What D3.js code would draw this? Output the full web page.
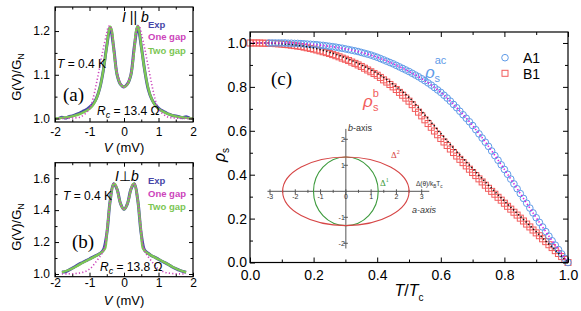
<!DOCTYPE html>
<html>
<head>
<meta charset="utf-8">
<script src="https://cdn.jsdelivr.net/npm/d3@7"></script>
<style>
body { margin: 0; background: #fff; }
svg { display: block; font-family: "Liberation Sans", Arial, sans-serif; }
</style>
</head>
<body>
<svg id="fig" width="581" height="311"></svg>
<script>
// ---- panel (a): I || b ----
const vA = [-2, -1.75, -1.5, -1.25, -1, -0.9, -0.8, -0.7, -0.6, -0.5, -0.45, -0.4, -0.35, -0.3, -0.25, -0.2, -0.1, 0,
            0.1, 0.2, 0.25, 0.3, 0.35, 0.4, 0.45, 0.5, 0.6, 0.7, 0.8, 0.9, 1, 1.25, 1.5, 1.75, 2];
const twoGapA = [1.000, 1.002, 1.005, 1.011, 1.022, 1.030, 1.045, 1.070, 1.110, 1.165, 1.195, 1.210, 1.200, 1.160, 1.125, 1.100, 1.078, 1.072,
                 1.078, 1.100, 1.125, 1.160, 1.200, 1.212, 1.197, 1.165, 1.110, 1.070, 1.045, 1.030, 1.022, 1.011, 1.005, 1.002, 1.000];
const oneGapA = [1.000, 1.000, 1.001, 1.004, 1.022, 1.045, 1.080, 1.120, 1.160, 1.195, 1.210, 1.212, 1.195, 1.165, 1.130, 1.105, 1.080, 1.072,
                 1.080, 1.105, 1.130, 1.165, 1.195, 1.212, 1.210, 1.195, 1.160, 1.120, 1.080, 1.045, 1.022, 1.004, 1.001, 1.000, 1.000];
const vExpA = [-1.9, -1.8, -1.7, -1.6, -1.5, -1.4, -1.3, -1.2, -1.1, -1.0, -0.9, -0.8, -0.7, -0.6, -0.5, -0.4, -0.3, -0.2, -0.1, 0,
               0.1, 0.2, 0.3, 0.4, 0.5, 0.6, 0.7, 0.8, 0.9, 1.0, 1.1, 1.2, 1.3, 1.4, 1.5, 1.6, 1.7, 1.8, 1.9];
const expA = [1.000, 1.003, 1.001, 1.004, 1.006, 1.009, 1.012, 1.016, 1.020, 1.026, 1.033, 1.046, 1.070, 1.110, 1.165, 1.208, 1.162, 1.100, 1.078, 1.072,
              1.079, 1.100, 1.165, 1.210, 1.165, 1.110, 1.068, 1.045, 1.032, 1.024, 1.018, 1.014, 1.010, 1.007, 1.006, 1.004, 1.002, 1.004, 1.001];

// ---- panel (b): I ⊥ b ----
const vB = [-1.8, -1.6, -1.4, -1.2, -1, -0.8, -0.65, -0.55, -0.5, -0.45, -0.4, -0.35, -0.3, -0.25, -0.2, -0.15, -0.1, -0.05, 0,
            0.05, 0.1, 0.15, 0.2, 0.25, 0.3, 0.35, 0.4, 0.45, 0.5, 0.55, 0.65, 0.8, 1, 1.2, 1.4, 1.6, 1.8];
const twoGapB = [1.010, 1.025, 1.045, 1.070, 1.092, 1.115, 1.135, 1.160, 1.250, 1.360, 1.460, 1.530, 1.565, 1.560, 1.530, 1.480, 1.440, 1.415, 1.405,
                 1.415, 1.440, 1.480, 1.530, 1.560, 1.565, 1.530, 1.460, 1.360, 1.250, 1.160, 1.135, 1.115, 1.092, 1.070, 1.045, 1.025, 1.010];
const oneGapB = [1.000, 1.001, 1.003, 1.010, 1.030, 1.080, 1.125, 1.180, 1.265, 1.365, 1.460, 1.530, 1.565, 1.560, 1.530, 1.480, 1.440, 1.415, 1.405,
                 1.415, 1.440, 1.480, 1.530, 1.560, 1.565, 1.530, 1.460, 1.365, 1.265, 1.180, 1.125, 1.080, 1.030, 1.010, 1.003, 1.001, 1.000];
const vExpB = [-1.8, -1.7, -1.6, -1.5, -1.4, -1.3, -1.2, -1.1, -1.0, -0.9, -0.8, -0.7, -0.6, -0.5, -0.4, -0.3, -0.2, -0.1, 0,
               0.1, 0.2, 0.3, 0.4, 0.5, 0.6, 0.7, 0.8, 0.9, 1.0, 1.1, 1.2, 1.3, 1.4, 1.5, 1.6, 1.7, 1.8];
const expB = [1.012, 1.014, 1.024, 1.036, 1.048, 1.062, 1.072, 1.084, 1.094, 1.106, 1.117, 1.128, 1.150, 1.250, 1.460, 1.565, 1.530, 1.440, 1.405,
              1.440, 1.530, 1.565, 1.460, 1.250, 1.148, 1.130, 1.114, 1.104, 1.092, 1.080, 1.070, 1.058, 1.044, 1.034, 1.024, 1.016, 1.011];

// ---- panel (c): superfluid density ----
const tGrid = [0.00, 0.01, 0.02, 0.03, 0.04, 0.05, 0.06, 0.07, 0.08, 0.09, 0.10, 0.11, 0.12, 0.13, 0.14, 0.15, 0.16, 0.17, 0.18, 0.19,
               0.20, 0.21, 0.22, 0.23, 0.24, 0.25, 0.26, 0.27, 0.28, 0.29, 0.30, 0.31, 0.32, 0.33, 0.34, 0.35, 0.36, 0.37, 0.38, 0.39,
               0.40, 0.41, 0.42, 0.43, 0.44, 0.45, 0.46, 0.47, 0.48, 0.49, 0.50, 0.51, 0.52, 0.53, 0.54, 0.55, 0.56, 0.57, 0.58, 0.59,
               0.60, 0.61, 0.62, 0.63, 0.64, 0.65, 0.66, 0.67, 0.68, 0.69, 0.70, 0.71, 0.72, 0.73, 0.74, 0.75, 0.76, 0.77, 0.78, 0.79,
               0.80, 0.81, 0.82, 0.83, 0.84, 0.85, 0.86, 0.87, 0.88, 0.89, 0.90, 0.91, 0.92, 0.93, 0.94, 0.95, 0.96, 0.97, 0.98, 0.99, 1.00];
// A1 starts at T/Tc = 0.06
const tA1 = tGrid.slice(6);
const rhoA1 = [1.000, 1.000, 1.000, 1.000, 1.000, 1.000, 0.999, 0.999, 0.998, 0.998, 0.997, 0.996, 0.995, 0.994,
               0.993, 0.992, 0.990, 0.989, 0.987, 0.985, 0.983, 0.981, 0.978, 0.976, 0.973, 0.970, 0.967, 0.964, 0.961, 0.957,
               0.953, 0.949, 0.945, 0.940, 0.935, 0.929, 0.923, 0.917, 0.911, 0.905, 0.898, 0.891, 0.884, 0.877, 0.870, 0.862,
               0.854, 0.846, 0.837, 0.828, 0.818, 0.808, 0.797, 0.786, 0.775, 0.762, 0.749, 0.735, 0.720, 0.705, 0.689, 0.673,
               0.657, 0.641, 0.624, 0.605, 0.586, 0.567, 0.548, 0.529, 0.508, 0.487, 0.466, 0.445, 0.424, 0.402, 0.380, 0.358,
               0.336, 0.314, 0.292, 0.270, 0.248, 0.226, 0.204, 0.183, 0.162, 0.141, 0.120, 0.099, 0.079, 0.059, 0.039, 0.019, 0.000];
const rhoB1 = [1.000, 1.000, 1.000, 1.000, 0.999, 0.999, 0.998, 0.998, 0.997, 0.996, 0.995, 0.993, 0.992, 0.990, 0.988, 0.986,
               0.984, 0.981, 0.978, 0.975, 0.972, 0.968, 0.964, 0.960, 0.956, 0.952, 0.947, 0.942, 0.937, 0.931, 0.926, 0.920,
               0.913, 0.907, 0.900, 0.893, 0.885, 0.877, 0.869, 0.861, 0.853, 0.843, 0.832, 0.822, 0.811, 0.800, 0.788, 0.775,
               0.762, 0.749, 0.735, 0.719, 0.702, 0.685, 0.668, 0.650, 0.633, 0.616, 0.599, 0.582, 0.565, 0.549, 0.533, 0.517,
               0.501, 0.485, 0.470, 0.455, 0.440, 0.425, 0.410, 0.396, 0.381, 0.367, 0.352, 0.338, 0.324, 0.311, 0.297, 0.284,
               0.270, 0.256, 0.243, 0.229, 0.216, 0.202, 0.189, 0.175, 0.162, 0.148, 0.135, 0.122, 0.108, 0.095, 0.081, 0.068,
               0.054, 0.041, 0.027, 0.014, 0.000];
const fitT = [0, 0.05, 0.1, 0.15, 0.2, 0.25, 0.3, 0.35, 0.4, 0.45, 0.5, 0.55, 0.6, 0.65, 0.7, 0.75, 0.8, 0.85, 0.9, 0.95, 1];
const fitAc = [1.000, 1.000, 1.000, 0.998, 0.993, 0.985, 0.973, 0.957, 0.935, 0.905, 0.870, 0.828, 0.775, 0.705, 0.624, 0.529, 0.424, 0.314, 0.204, 0.099, 0.000];
const fitB = [1.000, 1.000, 0.997, 0.990, 0.977, 0.958, 0.932, 0.900, 0.862, 0.812, 0.752, 0.672, 0.588, 0.505, 0.428, 0.352, 0.280, 0.210, 0.140, 0.070, 0.000];

// inset: gap anisotropy (a-axis, b-axis half widths, in units of kB Tc)
const gapNames = ['Δ1', 'Δ2'];
const gapA = [1.28, 2.5];
const gapB = [1.32, 1.32];
const insetTicks = [-3, -2, -1, 0, 1, 2, 3];

const svg = d3.select('#fig');
const blk = '#000';

function drawBox(g, x, y, o) {
    const xr = x.range(), yr = y.range();
    const axes = [
        [d3.axisBottom(x).tickValues(o.xMajor).tickFormat(o.fmtX).tickPadding(o.padX), yr[0], 'x', o.major],
        [d3.axisBottom(x).tickValues(o.xMinor).tickFormat(''), yr[0], 'x', o.minor],
        [d3.axisTop(x).tickValues(o.xMajor).tickFormat(''), yr[1], 'x', o.major],
        [d3.axisTop(x).tickValues(o.xMinor).tickFormat(''), yr[1], 'x', o.minor],
        [d3.axisLeft(y).tickValues(o.yMajor).tickFormat(o.fmtY).tickPadding(o.padY), xr[0], 'y', o.major],
        [d3.axisLeft(y).tickValues(o.yMinor).tickFormat(''), xr[0], 'y', o.minor],
        [d3.axisRight(y).tickValues(o.yMajor).tickFormat(''), xr[1], 'y', o.major],
        [d3.axisRight(y).tickValues(o.yMinor).tickFormat(''), xr[1], 'y', o.minor]
    ];
    axes.forEach(function (a) {
        const ax = g.append('g')
            .attr('transform', a[2] === 'x' ? 'translate(0,' + a[1] + ')' : 'translate(' + a[1] + ',0)')
            .call(a[0].tickSizeInner(-a[3]).tickSizeOuter(0));
        ax.attr('font-size', o.fs).attr('font-family', null);
        ax.select('.domain').remove();
        ax.selectAll('.tick line').attr('stroke', blk).attr('stroke-width', 1);
        ax.selectAll('.tick text').attr('fill', blk);
    });
    g.append('rect')
        .attr('x', xr[0]).attr('y', yr[1])
        .attr('width', xr[1] - xr[0]).attr('height', yr[0] - yr[1])
        .attr('fill', 'none').attr('stroke', blk).attr('stroke-width', 1.2);
}

function label(g, x, y, size, color, parts, extra) {
    const t = g.append('text').attr('x', x).attr('y', y).attr('font-size', size).attr('fill', color);
    if (extra) Object.keys(extra).forEach(k => t.attr(k, extra[k]));
    parts.forEach(function (p) {
        const s = t.append('tspan').text(p.t);
        if (p.i) s.attr('font-style', 'italic');
        if (p.dy) s.attr('dy', p.dy);
        if (p.dx) s.attr('dx', p.dx);
        if (p.fs) s.attr('font-size', p.fs);
        if (p.ff) s.attr('font-family', p.ff);
    });
    return t;
}

const cExp = '#4747a8', cOne = '#cc44bb', cTwo = '#7cc654';

function spectrumPanel(v, two, one, vExp, exp, x, y, o, txt) {
    const g = svg.append('g');
    const line = d3.line().x(d => x(d[0])).y(d => y(d[1])).curve(d3.curveCatmullRom);
    g.append('path').datum(vExp.map((d, i) => [d, exp[i]]))
        .attr('d', line).attr('fill', 'none').attr('stroke', cExp).attr('stroke-width', 3);
    g.append('path').datum(v.map((d, i) => [d, two[i]]))
        .attr('d', line).attr('fill', 'none').attr('stroke', cTwo).attr('stroke-width', 2.4);
    g.append('path').datum(v.map((d, i) => [d, one[i]]))
        .attr('d', line).attr('fill', 'none').attr('stroke', cOne).attr('stroke-width', 1.6)
        .attr('stroke-dasharray', '1.2,2.2');
    drawBox(g, x, y, o);

    label(g, 148, txt.leg[0], 9.5, cExp, [{ t: 'Exp' }], { 'font-weight': 'bold' });
    label(g, 148, txt.leg[1], 9.5, cOne, [{ t: 'One gap' }], { 'font-weight': 'bold' });
    label(g, 148, txt.leg[2], 9.5, cTwo, [{ t: 'Two gap' }], { 'font-weight': 'bold' });
    label(g, txt.ib[0], txt.ib[1], 14, blk, txt.ibParts);
    label(g, txt.T[0], txt.T[1], 12, blk, [{ t: 'T', i: true }, { t: ' = 0.4 K' }]);
    label(g, txt.p[0], txt.p[1], 19, blk, [{ t: txt.p[2] }], { 'font-family': '"Liberation Serif", "DejaVu Serif", serif' });
    label(g, txt.R[0], txt.R[1], 12, blk, [{ t: 'R', i: true }, { t: 'c', i: true, dy: 3, fs: 9 }, { t: ' = ' + txt.R[2] + ' Ω', dy: -3 }]);

    const cx = (x.range()[0] + x.range()[1]) / 2;
    label(g, cx, txt.xl, 13, blk, [{ t: 'V', i: true }, { t: ' (mV)' }], { 'text-anchor': 'middle' });
    label(g, 0, 0, 13, blk, [{ t: 'G(V)/G' }, { t: 'N', dy: 3, fs: 9 }],
        { 'text-anchor': 'middle', transform: 'translate(21,' + txt.yl + ') rotate(-90)' });
}

// panel (a)
const xa = d3.scaleLinear().domain([-2, 2]).range([55, 193]);
const ya = d3.scaleLinear().domain([0.992, 1.255]).range([122, 7]);
spectrumPanel(vA, twoGapA, oneGapA, vExpA, expA, xa, ya, {
    xMajor: [-2, -1, 0, 1, 2], xMinor: [-1.5, -0.5, 0.5, 1.5],
    yMajor: [1.0, 1.1, 1.2], yMinor: [1.05, 1.15],
    fmtX: d => String(d), fmtY: d3.format('.1f'),
    padX: 5, padY: 5, fs: 12, major: 4, minor: 2.5
}, {
    leg: [28, 40, 54], ib: [122, 22], ibParts: [{ t: 'I', i: true }, { t: ' || ' }, { t: 'b', i: true }],
    T: [57, 68], p: [63, 101, '(a)'], R: [97, 115, '13.4'], xl: 152, yl: 77
});

// panel (b)
const xb = d3.scaleLinear().domain([-2, 2]).range([55, 193]);
const yb = d3.scaleLinear().domain([0.983, 1.697]).range([276.7, 162.7]);
spectrumPanel(vB, twoGapB, oneGapB, vExpB, expB, xb, yb, {
    xMajor: [-2, -1, 0, 1, 2], xMinor: [-1.5, -0.5, 0.5, 1.5],
    yMajor: [1.0, 1.2, 1.4, 1.6], yMinor: [1.1, 1.3, 1.5],
    fmtX: d => String(d), fmtY: d3.format('.1f'),
    padX: 2, padY: 5, fs: 12, major: 4, minor: 2.5
}, {
    leg: [184, 197, 210], ib: [115, 181], ibParts: [{ t: 'I', i: true }, { t: '⊥', ff: '"DejaVu Sans", sans-serif' }, { t: 'b', i: true }],
    T: [63, 200], p: [72, 248, '(b)'], R: [100, 271, '13.8'], xl: 305, yl: 227
});

// panel (c)
const xc = d3.scaleLinear().domain([0, 1]).range([250, 568]);
const yc = d3.scaleLinear().domain([0, 1.05]).range([262.5, 32]);
const gc = svg.append('g');
const cBlue = '#5f9be8', cRed = '#f25c5c';

gc.selectAll('rect.b1').data(tGrid).join('rect').attr('class', 'b1')
    .attr('x', d => xc(d) - 3).attr('y', (d, i) => yc(rhoB1[i]) - 3)
    .attr('width', 6).attr('height', 6)
    .attr('fill', 'none').attr('stroke', cRed).attr('stroke-width', 1);
gc.selectAll('circle.a1').data(tA1).join('circle').attr('class', 'a1')
    .attr('cx', d => xc(d)).attr('cy', (d, i) => yc(rhoA1[i])).attr('r', 3.3)
    .attr('fill', 'none').attr('stroke', cBlue).attr('stroke-width', 1);

const fitLine = d3.line().x(d => xc(d[0])).y(d => yc(d[1])).curve(d3.curveMonotoneX);
gc.append('path').datum(fitT.map((d, i) => [d, fitB[i]])).attr('d', fitLine)
    .attr('fill', 'none').attr('stroke', '#111').attr('stroke-width', 1.6).attr('stroke-dasharray', '1.3,2.2');
gc.append('path').datum(fitT.map((d, i) => [d, fitAc[i]])).attr('d', fitLine)
    .attr('fill', 'none').attr('stroke', '#e020e0').attr('stroke-width', 1.6).attr('stroke-dasharray', '1.3,2.2');

drawBox(gc, xc, yc, {
    xMajor: [0, 0.2, 0.4, 0.6, 0.8, 1.0], xMinor: [0.1, 0.3, 0.5, 0.7, 0.9],
    yMajor: [0, 0.2, 0.4, 0.6, 0.8, 1.0], yMinor: [0.1, 0.3, 0.5, 0.7, 0.9],
    fmtX: d3.format('.1f'), fmtY: d3.format('.1f'),
    padX: 8, padY: 3, fs: 14, major: 5, minor: 3
});

// legend
gc.append('circle').attr('cx', 505).attr('cy', 57.7).attr('r', 3.3).attr('fill', 'none').attr('stroke', cBlue);
label(gc, 523, 63, 14, blk, [{ t: 'A1' }]);
gc.append('rect').attr('x', 502).attr('y', 70.3).attr('width', 6).attr('height', 6).attr('fill', 'none').attr('stroke', cRed);
label(gc, 523, 78.5, 14, blk, [{ t: 'B1' }]);

label(gc, 271, 85, 19, blk, [{ t: '(c)' }], { 'font-family': '"Liberation Serif", "DejaVu Serif", serif' });
label(gc, 425, 78, 17, cBlue, [{ t: 'ρ', i: true }, { t: 'ac', fs: 11, dy: -14 }, { t: 's', fs: 11, dx: -12, dy: 18 }]);
label(gc, 363, 107, 17, cRed, [{ t: 'ρ', i: true }, { t: 'b', fs: 11, dy: -10 }, { t: 's', fs: 11, dx: -6, dy: 14 }]);

label(gc, 409, 296, 16, blk, [{ t: 'T', i: true }, { t: '/' }, { t: 'T', i: true }, { t: 'c', fs: 10, dy: 5 }], { 'text-anchor': 'middle' });
label(gc, 0, 0, 16, blk, [{ t: 'ρ', i: true }, { t: 's', fs: 10, dy: 4 }],
    { 'text-anchor': 'middle', transform: 'translate(225,155) rotate(-90)' });

// inset
const ix = d3.scaleLinear().domain([-3, 3]).range([270, 421.7]);
const iy = d3.scaleLinear().domain([-2, 2]).range([243.3, 139.3]);
const gi = gc.append('g');
const grey = '#555';
gi.append('line').attr('x1', ix(-3.1)).attr('x2', ix(3.3)).attr('y1', iy(0)).attr('y2', iy(0)).attr('stroke', grey).attr('stroke-width', 1);
gi.append('line').attr('x1', ix(0)).attr('x2', ix(0)).attr('y1', iy(2.4)).attr('y2', iy(-2.2)).attr('stroke', grey).attr('stroke-width', 1);
const halfTicks = [-2.5, -1.5, -0.5, 0.5, 1.5, 2.5];
gi.selectAll('line.hx').data(insetTicks).join('line').attr('class', 'hx')
    .attr('x1', d => ix(d)).attr('x2', d => ix(d)).attr('y1', iy(0) - 2).attr('y2', iy(0) + 3).attr('stroke', grey);
gi.selectAll('line.hm').data(halfTicks).join('line').attr('class', 'hm')
    .attr('x1', d => ix(d)).attr('x2', d => ix(d)).attr('y1', iy(0) - 1.5).attr('y2', iy(0) + 1.5).attr('stroke', grey);
gi.selectAll('text.hl').data(insetTicks).join('text').attr('class', 'hl')
    .attr('x', d => ix(d)).attr('y', iy(0) + 8).attr('text-anchor', 'middle')
    .attr('font-size', 7).attr('fill', '#333').text(d => String(d));
const vTicks = [-2, -1, 1, 2];
gi.selectAll('line.vy').data(vTicks).join('line').attr('class', 'vy')
    .attr('x1', ix(0) - 2).attr('x2', ix(0) + 2).attr('y1', d => iy(d)).attr('y2', d => iy(d)).attr('stroke', grey);
gi.selectAll('text.vl').data(vTicks).join('text').attr('class', 'vl')
    .attr('x', ix(0) - 1).attr('y', d => iy(d) + 3).attr('text-anchor', 'end')
    .attr('font-size', 7).attr('fill', '#333').text(d => String(d));

const gapColors = ['#3c9a3c', '#d64545'];
gi.selectAll('ellipse').data(gapA).join('ellipse')
    .attr('cx', ix(0)).attr('cy', iy(0))
    .attr('rx', d => ix(d) - ix(0)).attr('ry', (d, i) => iy(0) - iy(gapB[i]))
    .attr('fill', 'none').attr('stroke', (d, i) => gapColors[i]).attr('stroke-width', 1.1);

const serif = '"Liberation Serif", "DejaVu Serif", serif';
label(gi, 348, 131, 9, '#333', [{ t: 'b', i: true }, { t: '-axis' }]);
label(gi, 412, 213, 9, '#333', [{ t: 'a-axis' }], { 'font-style': 'italic' });
label(gi, 416, 186, 6.5, '#333', [{ t: 'Δ(θ)/k' }, { t: 'B', fs: 4.5, dy: 1.5 }, { t: 'T', dy: -1.5 }, { t: 'c', fs: 4.5, dy: 1.5 }]);
label(gi, 391, 158, 9, gapColors[1], [{ t: 'Δ' }, { t: '2', fs: 6, dy: -4 }], { 'font-family': serif });
label(gi, 380, 186, 9, gapColors[0], [{ t: 'Δ' }, { t: '1', fs: 6, dy: -4 }], { 'font-family': serif });
</script>
</body>
</html>
